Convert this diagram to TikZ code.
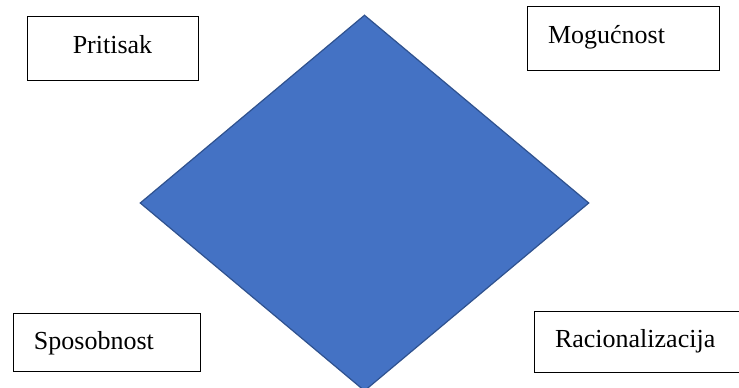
\documentclass[tikz,border=0pt]{standalone}
\usepackage{fontspec}
\setmainfont{Liberation Serif}
\usepackage{tikz}
\usetikzlibrary{shapes.geometric}
\definecolor{rombplava}{RGB}{68,114,196}
\definecolor{rombrub}{RGB}{47,82,143}

\begin{document}
\begin{tikzpicture}[x=1pt, y=1pt,
  okvir/.style={rectangle, draw=black, line width=1pt, fill=white, inner xsep=21pt, inner ysep=0pt, align=left, text height=19pt, text depth=5pt, font=\rmfamily\fontsize{26}{30}\selectfont},
  romb/.style={diamond, draw=rombrub, line width=1.2pt, fill=rombplava, minimum width=449pt, minimum height=376pt, inner sep=0pt}
]
\useasboundingbox (0,0) rectangle (739,388);
\clip (0,0) rectangle (739,388);
\node[romb] (faktori) at (364.5,185) {};
\node[okvir, text width=129pt, align=center, minimum height=64pt, text depth=10pt] (pritisak) at (112.5,339) {Pritisak};
\node[okvir, text width=150pt, minimum height=64pt, text depth=9pt] (mogucnost) at (623,349) {Mogućnost};
\node[okvir, text width=145pt, minimum height=58pt] (sposobnost) at (106.5,45) {Sposobnost};
\node[okvir, text width=174pt, minimum height=61pt, text depth=8pt] (racionalizacija) at (642,45.5) {Racionalizacija};
\end{tikzpicture}
\end{document}
